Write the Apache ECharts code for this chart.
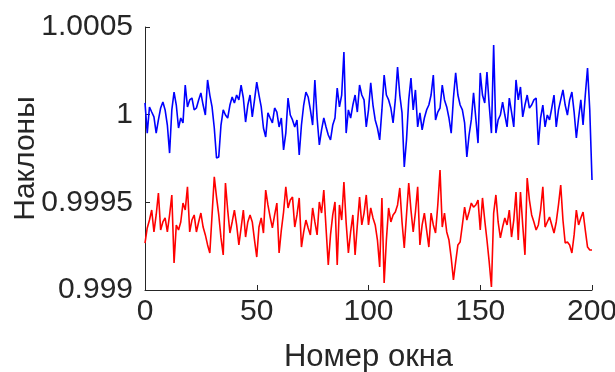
<!DOCTYPE html>
<html>
<head>
<meta charset="utf-8">
<script src="https://cdn.jsdelivr.net/npm/echarts@6/dist/echarts.min.js"></script>
<style>
  html, body { margin: 0; padding: 0; background: #fff; }
  #chart { width: 615px; height: 372px; }
</style>
</head>
<body>
<div id="chart"></div>
<script>
// наклоны по окнам (индекс окна 0..200)
const blueSlopes = [
  1.000067, 0.999895, 1.000044, 1.000015, 0.999987, 0.999895, 0.999970, 1.000038, 1.000072, 1.000027,
  0.999941, 0.999781, 1.000027, 1.000129, 1.000055, 0.999924, 0.999981, 0.999953, 1.000169, 1.000044,
  1.000084, 1.000095, 1.000027, 1.000038, 1.000084, 1.000124, 1.000055, 0.999998, 1.000198, 1.000112,
  1.000044, 0.999924, 0.999753, 0.999759, 0.999941, 1.000027, 0.999998, 0.999981, 1.000055, 1.000101,
  1.000067, 1.000112, 1.000084, 1.000169, 1.000095, 0.999958, 1.000055, 1.000112, 0.999987, 1.000084,
  1.000186, 1.000112, 1.000044, 0.999924, 0.999873, 1.000010, 0.999981, 0.999953, 1.000038, 1.000015,
  0.999930, 0.999981, 0.999799, 0.999895, 1.000095, 0.999998, 0.999970, 0.999930, 0.999970, 0.999770,
  0.999941, 1.000055, 1.000129, 1.000101, 1.000027, 0.999941, 1.000198, 0.999981, 0.999827, 0.999913,
  0.999981, 0.999930, 0.999884, 0.999856, 0.999941, 0.999981, 1.000152, 1.000044, 1.000112, 1.000357,
  0.999895, 1.000027, 0.999981, 1.000055, 1.000112, 1.000015, 1.000169, 1.000112, 1.000084, 0.999930,
  1.000027, 1.000181, 1.000055, 0.999970, 0.999924, 0.999856, 1.000027, 1.000226, 1.000112, 1.000084,
  1.000038, 0.999953, 1.000084, 1.000272, 1.000112, 1.000010, 0.999702, 0.999856, 1.000084, 1.000209,
  1.000027, 1.000141, 0.999930, 1.000010, 0.999913, 0.999981, 1.000027, 1.000055, 1.000112, 1.000226,
  0.999970, 1.000015, 1.000038, 1.000169, 1.000084, 1.000044, 0.999981, 0.999895, 1.000095, 1.000238,
  1.000112, 1.000055, 1.000027, 0.999953, 0.999759, 0.999884, 0.999970, 1.000124, 0.999981, 0.999838,
  1.000238, 1.000112, 1.000067, 1.000243, 1.000055, 0.999895, 1.000397, 0.999895, 0.999970, 0.999998,
  1.000072, 0.999998, 0.999930, 1.000095, 1.000015, 0.999930, 1.000198, 1.000084, 1.000158, 0.999987,
  1.000055, 1.000112, 1.000038, 1.000055, 1.000084, 1.000095, 0.999827, 0.999981, 1.000055, 0.999930,
  0.999998, 0.999970, 1.000038, 1.000112, 0.999930, 1.000027, 1.000084, 1.000141, 1.000055, 0.999998,
  1.000084, 1.000129, 1.000015, 0.999867, 0.999981, 1.000084, 0.999941, 1.000112, 1.000266, 1.000027,
  0.999627
];

const redSlopes = [
  0.999268, 0.999354, 0.999399, 0.999456, 0.999331, 0.999428, 0.999553, 0.999342, 0.999388, 0.999411,
  0.999331, 0.999428, 0.999542, 0.999154, 0.999371, 0.999342, 0.999388, 0.999496, 0.999456, 0.999588,
  0.999331, 0.999399, 0.999428, 0.999331, 0.999388, 0.999439, 0.999359, 0.999314, 0.999257, 0.999211,
  0.999428, 0.999645, 0.999530, 0.999428, 0.999297, 0.999200, 0.999610, 0.999456, 0.999325, 0.999388,
  0.999456, 0.999371, 0.999257, 0.999354, 0.999456, 0.999302, 0.999388, 0.999428, 0.999388, 0.999285,
  0.999188, 0.999359, 0.999411, 0.999325, 0.999570, 0.999485, 0.999416, 0.999354, 0.999428, 0.999496,
  0.999211, 0.999342, 0.999445, 0.999588, 0.999468, 0.999513, 0.999530, 0.999359, 0.999428, 0.999525,
  0.999245, 0.999331, 0.999399, 0.999354, 0.999314, 0.999468, 0.999388, 0.999314, 0.999502, 0.999439,
  0.999570, 0.999354, 0.999143, 0.999314, 0.999428, 0.999502, 0.999143, 0.999485, 0.999399, 0.999616,
  0.999382, 0.999211, 0.999331, 0.999428, 0.999200, 0.999371, 0.999530, 0.999371, 0.999439, 0.999542,
  0.999371, 0.999468, 0.999411, 0.999371, 0.999285, 0.999131, 0.999525, 0.999040, 0.999285, 0.999468,
  0.999388, 0.999428, 0.999445, 0.999485, 0.999582, 0.999388, 0.999240, 0.999428, 0.999610, 0.999456,
  0.999331, 0.999445, 0.999588, 0.999257, 0.999371, 0.999439, 0.999342, 0.999245, 0.999439, 0.999371,
  0.999325, 0.999485, 0.999684, 0.999359, 0.999439, 0.999331, 0.999285, 0.999183, 0.999057, 0.999160,
  0.999257, 0.999274, 0.999371, 0.999473, 0.999399, 0.999445, 0.999496, 0.999473, 0.999485, 0.999513,
  0.999342, 0.999525, 0.999399, 0.999285, 0.999160, 0.999017, 0.999439, 0.999542, 0.999388, 0.999297,
  0.999359, 0.999411, 0.999371, 0.999456, 0.999302, 0.999399, 0.999559, 0.999285, 0.999559, 0.999371,
  0.999200, 0.999639, 0.999513, 0.999428, 0.999388, 0.999342, 0.999371, 0.999456, 0.999588, 0.999359,
  0.999388, 0.999416, 0.999371, 0.999325, 0.999388, 0.999485, 0.999599, 0.999399, 0.999268, 0.999274,
  0.999257, 0.999211, 0.999314, 0.999456, 0.999371, 0.999411, 0.999445, 0.999342, 0.999245, 0.999228,
  0.999228
];

const xTicks = [0, 50, 100, 150, 200];
const yTicks = [0.999, 0.9995, 1, 1.0005];

const chart = echarts.init(document.getElementById("chart"));

const textColor = "#262626";
const font = "'Liberation Sans', Arial, sans-serif";

const toPairs = (arr) => arr.map((v, i) => [i, v]);

chart.setOption({
  animation: false,
  // сетка по пикселям, подписи могут выходить за край
  grid: { left: 145, right: 23, top: 27, bottom: 82, outerBoundsMode: "none" },
  xAxis: {
    type: "value",
    min: xTicks[0],
    max: xTicks[xTicks.length - 1],
    interval: 50,
    name: "Номер окна",
    nameLocation: "middle",
    nameGap: 52,
    nameMoveOverlap: false,
    nameTextStyle: { color: textColor, fontSize: 31, fontFamily: font },
    axisLine: { show: true, lineStyle: { color: textColor, width: 1 } },
    axisTick: { show: true, inside: true, length: 5, lineStyle: { color: textColor } },
    axisLabel: { color: textColor, fontSize: 30, fontFamily: font, margin: 7 },
    splitLine: { show: false },
  },
  yAxis: {
    type: "value",
    min: yTicks[0],
    max: yTicks[yTicks.length - 1],
    interval: 0.0005,
    name: "Наклоны",
    nameLocation: "middle",
    nameGap: 104,
    nameMoveOverlap: false,
    nameTextStyle: { color: textColor, fontSize: 30, fontFamily: font },
    axisLine: { show: true, lineStyle: { color: textColor, width: 1 } },
    axisTick: { show: true, inside: true, length: 5, lineStyle: { color: textColor } },
    axisLabel: {
      color: textColor,
      fontSize: 30,
      fontFamily: font,
      margin: 12,
      formatter: (v) => String(parseFloat(v.toFixed(4))),
    },
    splitLine: { show: false },
  },
  series: [
    {
      type: "line",
      data: toPairs(blueSlopes),
      showSymbol: false,
      lineStyle: { color: "#0000ff", width: 1.6 },
    },
    {
      type: "line",
      data: toPairs(redSlopes),
      showSymbol: false,
      lineStyle: { color: "#ff0000", width: 1.6 },
    },
  ],
});
</script>
</body>
</html>
